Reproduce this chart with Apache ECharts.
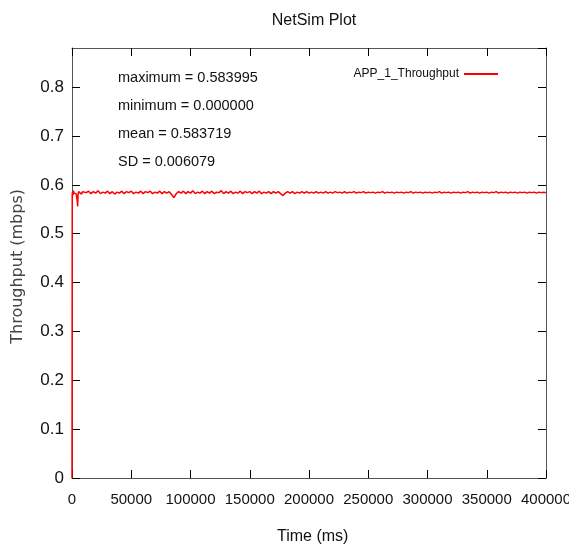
<!DOCTYPE html>
<html>
<head>
<meta charset="utf-8">
<script src="https://cdn.jsdelivr.net/npm/echarts@6/dist/echarts.min.js"></script>
<style>
body { margin: 0; background: #fff; }
#ct1 { width: 569px; height: 548px; }
</style>
</head>
<body>
<div id="ct1"></div>
<script>
// throughput samples, [time ms, mbps]
var throughput = [
	[0, 0], [200, 0.581], [500, 0.586], [900, 0.579], [1300, 0.588], [1700, 0.583],
	[2100, 0.587], [2600, 0.580], [3000, 0.586], [3500, 0.582], [4000, 0.578],
	[4500, 0.565], [4800, 0.556], [5100, 0.580], [5600, 0.586], [6200, 0.583],
	[7000, 0.587], [8000, 0.581], [9000, 0.586], [10000, 0.583],
	[12000, 0.584], [14000, 0.587], [16000, 0.582], [18000, 0.586], [20000, 0.583],
	[22000, 0.588], [24000, 0.582], [26000, 0.585], [28000, 0.583], [30000, 0.587],
	[32000, 0.582], [34000, 0.586], [36000, 0.581], [38000, 0.585], [40000, 0.583],
	[42000, 0.587], [44000, 0.582], [46000, 0.586], [48000, 0.584], [50000, 0.587],
	[52000, 0.582], [54000, 0.585], [56000, 0.583], [58000, 0.587], [60000, 0.582],
	[62000, 0.586], [64000, 0.584], [66000, 0.587], [68000, 0.582], [70000, 0.585],
	[72000, 0.583], [74000, 0.587], [76000, 0.582], [78000, 0.586], [80000, 0.583],
	[82000, 0.586], [84000, 0.580], [86000, 0.574], [88000, 0.582], [90000, 0.586],
	[92000, 0.583], [94000, 0.587], [96000, 0.582], [98000, 0.586], [100000, 0.583],
	[102000, 0.588], [104000, 0.582], [106000, 0.585], [108000, 0.583], [110000, 0.587],
	[112000, 0.582], [114000, 0.586], [116000, 0.583], [118000, 0.587], [120000, 0.582],
	[122000, 0.585], [124000, 0.584], [126000, 0.588], [128000, 0.582], [130000, 0.586],
	[132000, 0.583], [134000, 0.587], [136000, 0.582], [138000, 0.585], [140000, 0.583],
	[142000, 0.587], [144000, 0.582], [146000, 0.586], [148000, 0.584], [150000, 0.586],
	[152000, 0.582], [154000, 0.586], [156000, 0.583], [158000, 0.587], [160000, 0.582],
	[162000, 0.585], [164000, 0.583], [166000, 0.586], [168000, 0.582], [170000, 0.586],
	[172000, 0.583], [174000, 0.586], [176000, 0.582], [178000, 0.578], [180000, 0.583],
	[182000, 0.586], [184000, 0.583], [186000, 0.586], [188000, 0.582], [190000, 0.585],
	[192000, 0.583], [194000, 0.586], [196000, 0.583], [198000, 0.586], [200000, 0.583],
	[202000, 0.585], [204000, 0.583], [206000, 0.586], [208000, 0.583], [210000, 0.585],
	[212000, 0.583], [214000, 0.586], [216000, 0.583], [218000, 0.585], [220000, 0.583],
	[222000, 0.586], [224000, 0.584], [226000, 0.585], [228000, 0.583], [230000, 0.586],
	[232000, 0.583], [234000, 0.585], [236000, 0.584], [238000, 0.586], [240000, 0.583],
	[242000, 0.585], [244000, 0.584], [246000, 0.586], [248000, 0.583], [250000, 0.585],
	[252000, 0.584], [254000, 0.585], [256000, 0.583], [258000, 0.585], [260000, 0.584],
	[262000, 0.586], [264000, 0.583], [266000, 0.585], [268000, 0.584], [270000, 0.585],
	[272000, 0.583], [274000, 0.585], [276000, 0.584], [278000, 0.585], [280000, 0.583],
	[282000, 0.585], [284000, 0.584], [286000, 0.586], [288000, 0.583], [290000, 0.585],
	[292000, 0.584], [294000, 0.585], [296000, 0.583], [298000, 0.585], [300000, 0.584],
	[302000, 0.585], [304000, 0.583], [306000, 0.585], [308000, 0.584], [310000, 0.586],
	[312000, 0.583], [314000, 0.585], [316000, 0.584], [318000, 0.585], [320000, 0.583],
	[322000, 0.585], [324000, 0.584], [326000, 0.585], [328000, 0.583], [330000, 0.585],
	[332000, 0.584], [334000, 0.586], [336000, 0.583], [338000, 0.585], [340000, 0.584],
	[342000, 0.585], [344000, 0.583], [346000, 0.585], [348000, 0.584], [350000, 0.585],
	[352000, 0.583], [354000, 0.585], [356000, 0.584], [358000, 0.586], [360000, 0.583],
	[362000, 0.585], [364000, 0.584], [366000, 0.585], [368000, 0.583], [370000, 0.585],
	[372000, 0.584], [374000, 0.585], [376000, 0.583], [378000, 0.585], [380000, 0.584],
	[382000, 0.585], [384000, 0.583], [386000, 0.585], [388000, 0.584], [390000, 0.585],
	[392000, 0.583], [394000, 0.585], [396000, 0.584], [398000, 0.585], [400000, 0.584]
];
var statLines = [
	'maximum = 0.583995',
	'minimum = 0.000000',
	'mean = 0.583719',
	'SD = 0.006079'
];
var seriesName = 'APP_1_Throughput';

var font = '"Liberation Sans", Arial, sans-serif';
var myChart1 = echarts.init(document.getElementById('ct1'), null, { renderer: 'canvas' });

var statGraphics = [];
for (var i = 0; i < statLines.length; i++) {
	statGraphics.push({
		type: 'text',
		left: 118,
		top: 70 + i * 28,
		style: { text: statLines[i], font: '14.5px ' + font, fill: '#111' }
	});
}

function xAxisBase(pos, show) {
	return {
		type: 'value', position: pos, min: 0, max: 400000, interval: 50000,
		axisLine: { show: true, onZero: false, lineStyle: { color: '#555', width: 1 } },
		axisTick: { show: true, inside: true, length: 8, lineStyle: { color: '#000' } },
		splitLine: { show: false },
		axisLabel: {
			show: show, margin: 14, color: '#111', fontFamily: font, fontSize: 15,
			formatter: function(v) { return String(v); }
		}
	};
}
function yAxisBase(pos, show) {
	return {
		type: 'value', position: pos, min: 0, max: 0.88, interval: 0.1,
		axisLine: { show: true, onZero: false, lineStyle: { color: '#555', width: 1 } },
		axisTick: { show: true, inside: true, length: 8, lineStyle: { color: '#000' } },
		splitLine: { show: false },
		axisLabel: {
			show: show, margin: 8, color: '#111', fontFamily: font, fontSize: 17,
			showMaxLabel: false,
			formatter: function(v) { return v === 0 ? '0' : v.toFixed(1); }
		}
	};
}

var option1 = {
	backgroundColor: '#fff',
	animation: false,
	title: {
		text: 'NetSim Plot', left: 309, top: 8, textAlign: 'center',
		textStyle: { fontFamily: font, fontSize: 16, fontWeight: 'normal', color: '#111' }
	},
	grid: { left: 72, right: 23, top: 48, bottom: 70, show: false, outerBoundsMode: 'none', containLabel: false },
	legend: {
		data: [seriesName], right: 66, top: 63, align: 'right',
		icon: 'rect', itemWidth: 34, itemHeight: 2, itemGap: 6,
		textStyle: { fontFamily: font, fontSize: 12, color: '#111' }
	},
	xAxis: [xAxisBase('bottom', true), xAxisBase('top', false)],
	yAxis: [yAxisBase('left', true), yAxisBase('right', false)],
	graphic: statGraphics.concat([
		{
			type: 'text', left: 10, top: 189, rotation: Math.PI / 2,
			style: { text: 'Throughput (mbps)', font: '16px "DejaVu Sans", sans-serif', fill: '#444' }
		},
		{
			type: 'text', left: 277, top: 529,
			style: { text: 'Time (ms)', font: '16px ' + font, fill: '#111' }
		}
	]),
	series: [{
		name: seriesName,
		type: 'line',
		xAxisIndex: 0, yAxisIndex: 0,
		data: throughput,
		showSymbol: false,
		lineStyle: { color: '#ff0000', width: 1.5 },
		itemStyle: { color: '#ff0000' },
		z: 5
	}]
};
myChart1.setOption(option1, true);
</script>
</body>
</html>
